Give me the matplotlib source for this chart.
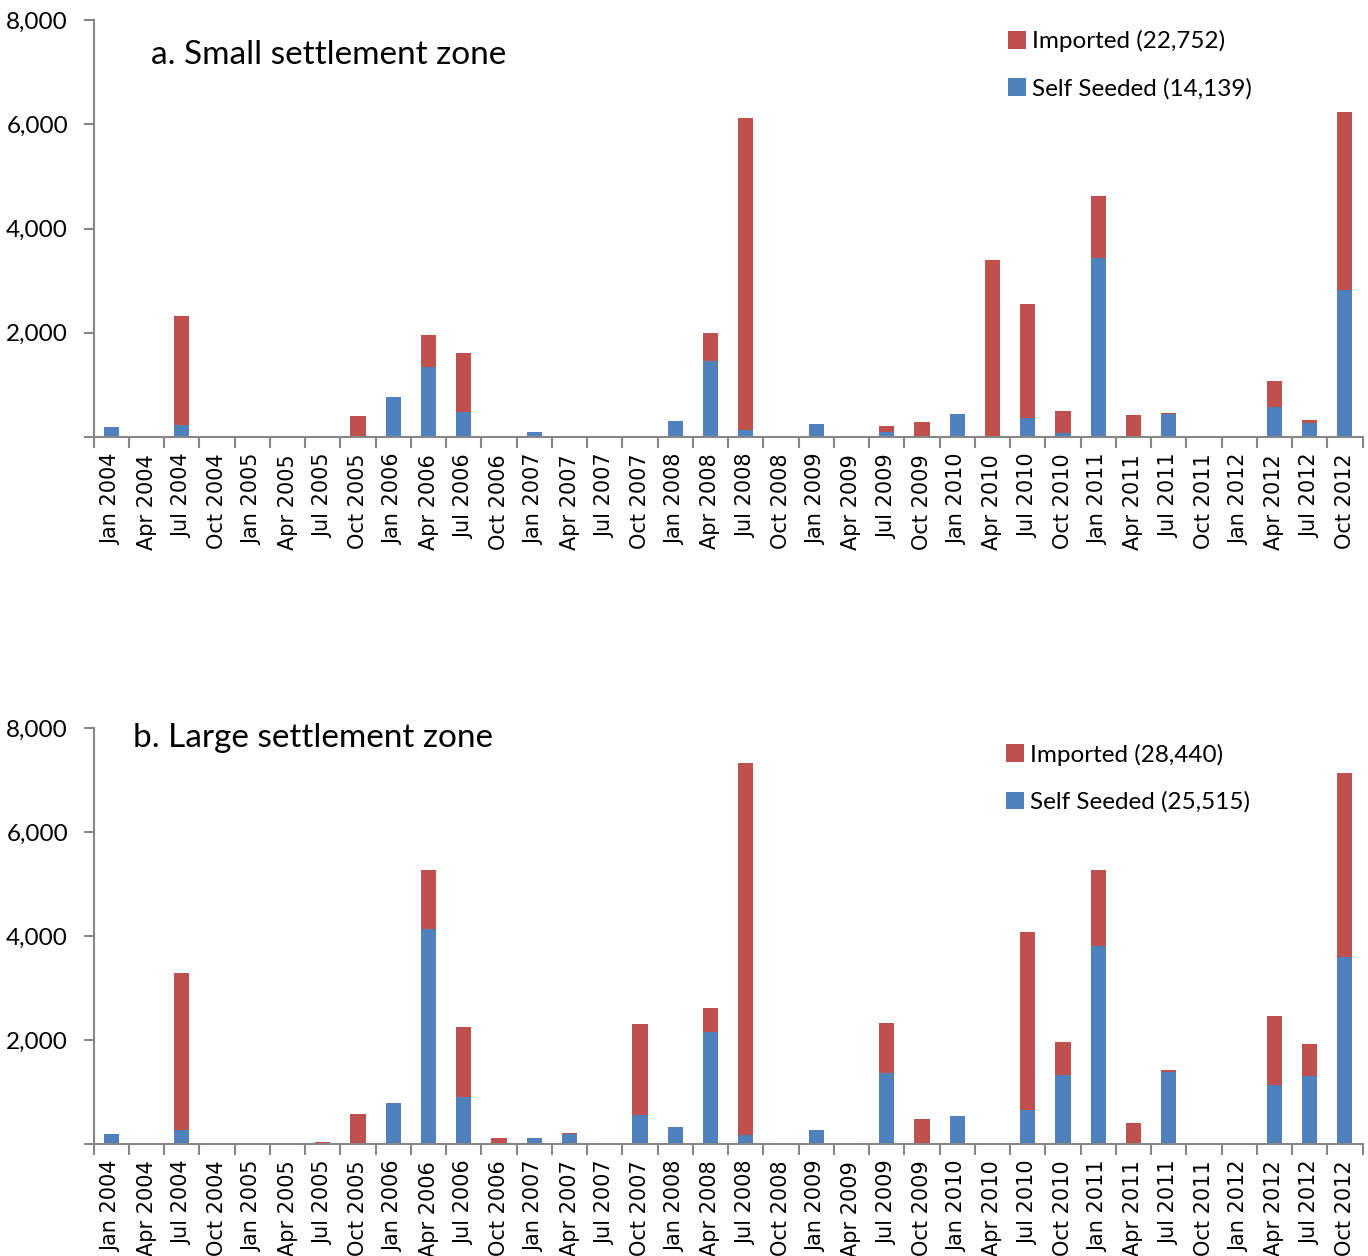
import matplotlib
matplotlib.use("Agg")
import matplotlib.pyplot as plt
import numpy as np
from matplotlib.patches import Patch

quarters = [f"{m} {y}" for y in range(2004, 2013) for m in ("Jan", "Apr", "Jul", "Oct")]

small_self = [200, 0, 230, 0, 0, 0, 0, 0, 770, 1350, 475, 0, 95, 0, 0, 0, 310, 1465,
              130, 0, 250, 0, 95, 0, 445, 0, 365, 80, 3430, 0, 445, 0, 0, 580, 270, 2830]
small_imported = [0, 0, 2100, 0, 0, 0, 0, 410, 0, 615, 1145, 20, 0, 0, 0, 0, 0, 540,
                  6000, 0, 0, 0, 115, 290, 0, 3390, 2195, 420, 1195, 425, 20, 0, 0, 500, 60, 3410]

large_self = [190, 0, 270, 0, 0, 0, 0, 0, 790, 4135, 905, 0, 115, 190, 0, 560, 325, 2155,
              175, 0, 270, 0, 1365, 0, 540, 0, 655, 1325, 3810, 0, 1385, 0, 0, 1135, 1310, 3595]
large_imported = [0, 0, 3020, 0, 0, 0, 40, 575, 0, 1135, 1345, 115, 0, 25, 20, 1750, 0, 460,
                  7150, 0, 0, 0, 960, 480, 0, 20, 3420, 635, 1460, 405, 40, 0, 0, 1325, 615, 3540]

panel_titles = ["a. Small settlement zone", "b. Large settlement zone"]
imported_labels = ["Imported (22,752)", "Imported (28,440)"]
self_labels = ["Self Seeded (14,139)", "Self Seeded (25,515)"]
y_ticks = [0, 2000, 4000, 6000, 8000]
y_ticklabels = ["", "2,000", "4,000", "6,000", "8,000"]

RED = "#C0504D"
BLUE = "#4F81BD"
AXIS_GREY = "#868686"
LABEL_FONT = "Lato"

fig = plt.figure(figsize=(13.68, 12.56), dpi=100)
axes_boxes = [
    (0.0685, 0.652, 0.9275, 0.332),
    (0.0685, 0.0892, 0.9275, 0.331),
]
panels = [(small_self, small_imported), (large_self, large_imported)]
title_pos = [(0.045, 0.916), (0.031, 0.976)]
legend_pos = [(0.713, 0.999), (0.711, 0.986)]

x = np.arange(len(quarters))
for k, (box, (selfs, imps)) in enumerate(zip(axes_boxes, panels)):
    ax = fig.add_axes(box)
    ax.bar(x, selfs, width=0.43, color=BLUE, linewidth=0)
    ax.bar(x, imps, width=0.43, bottom=selfs, color=RED, linewidth=0)

    ax.set_xlim(-0.5, len(quarters) - 0.5)
    ax.set_ylim(0, 8000)

    for side in ("top", "right"):
        ax.spines[side].set_visible(False)
    for side in ("left", "bottom"):
        ax.spines[side].set_color(AXIS_GREY)
        ax.spines[side].set_linewidth(1.5)

    # y axis
    ax.set_yticks(y_ticks)
    ax.set_yticklabels(y_ticklabels, fontfamily=LABEL_FONT, fontsize=17.5)
    ax.tick_params(axis="y", direction="out", length=7, width=1.5, color=AXIS_GREY, pad=11.5)

    # x axis: tick marks between categories, labels under each category
    ax.set_xticks(np.arange(-0.5, len(quarters)), minor=False)
    ax.set_xticklabels([])
    ax.tick_params(axis="x", which="major", direction="out", length=8, width=1.5, color=AXIS_GREY)
    ax.set_xticks(x, minor=True)
    ax.set_xticklabels(quarters, minor=True, rotation=90, fontsize=15,
                       fontfamily="DejaVu Sans", va="top", ha="center")
    ax.tick_params(axis="x", which="minor", length=0, pad=12)

    ax.text(title_pos[k][0], title_pos[k][1], panel_titles[k], transform=ax.transAxes,
            fontfamily=LABEL_FONT, fontsize=24, va="center", ha="left")

    handles = [Patch(facecolor=RED, edgecolor="none", label=imported_labels[k]),
               Patch(facecolor=BLUE, edgecolor="none", label=self_labels[k])]
    ax.legend(handles=handles, loc="upper left", bbox_to_anchor=legend_pos[k],
              frameon=False, prop={"family": LABEL_FONT, "size": 17.5},
              handlelength=0.75, handleheight=0.75, handletextpad=0.25,
              labelspacing=1.05, borderaxespad=0)

fig.savefig("out.png", dpi=100, facecolor="white")
